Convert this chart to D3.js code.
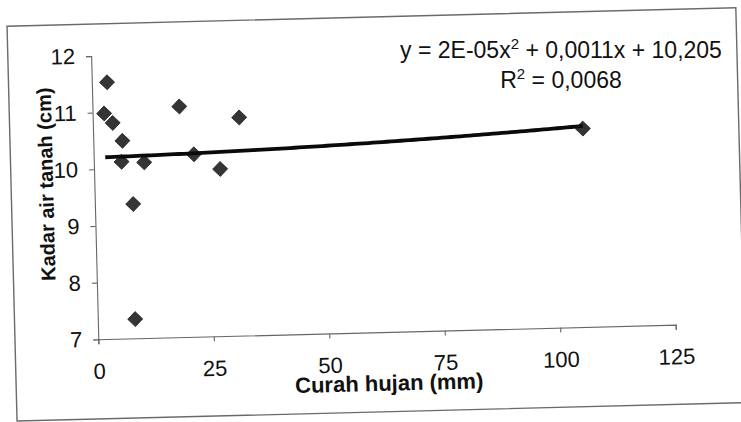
<!DOCTYPE html>
<html>
<head>
<meta charset="utf-8">
<script src="https://cdn.jsdelivr.net/npm/d3@7"></script>
<style>
  body { margin: 0; background: #fff; }
  text { font-family: "Liberation Sans", Arial, sans-serif; fill: #111; }
</style>
</head>
<body>
<script>
// data
let rain = [3.3, 2.5, 4.3, 6.3, 6.0, 10.9, 21.7, 18.8, 31.7, 27.3, 8.3, 8.1, 106];
let kadar = [11.53, 10.98, 10.81, 10.49, 10.12, 10.10, 10.22, 11.07, 10.85, 9.95, 9.37, 7.34, 10.5];
let xTicks = [0, 25, 50, 75, 100, 125];
let yTicks = [7, 8, 9, 10, 11, 12];
// polynomial trendline y = a x^2 + b x + c (as printed on the chart)
let coef = [2e-5, 0.0011, 10.205];

let points = rain.map((r, i) => ({ x: r, y: kadar[i] }));

let width = 741, height = 422;
let ox = 98.3, oy = 339.3;

let svg = d3.select("body").append("svg")
  .attr("width", width)
  .attr("height", height);

// the scan is slightly tilted
let g = svg.append("g").attr("transform", `rotate(-1.45, ${ox}, ${oy})`);

let x = d3.scaleLinear().domain([0, 125]).range([ox, 675.8]);
let y = d3.scaleLinear().domain([7, 12]).range([oy, 55.9]);

// outer frame
g.append("rect")
  .attr("x", 15).attr("y", 24)
  .attr("width", 729).attr("height", 395)
  .attr("fill", "none")
  .attr("stroke", "#6a6a6a")
  .attr("stroke-width", 1.4);

let xAxis = g.append("g")
  .attr("transform", `translate(0, ${oy})`)
  .call(d3.axisBottom(x).tickValues(xTicks).tickFormat(d3.format("d")).tickSize(5).tickPadding(19));
let yAxis = g.append("g")
  .attr("transform", `translate(${ox}, 0)`)
  .call(d3.axisLeft(y).tickValues(yTicks).tickFormat(d3.format("d")).tickSize(5).tickPadding(11));

[xAxis, yAxis].forEach(a => {
  a.select(".domain").attr("stroke", "#666").attr("stroke-width", 1.1);
  a.selectAll(".tick line").attr("stroke", "#666").attr("stroke-width", 1.1);
  a.selectAll(".tick text")
    .attr("font-size", 22)
    .attr("font-family", "Liberation Sans, Arial, sans-serif")
    .attr("fill", "#151515");
});

// markers
g.selectAll("path.pt")
  .data(points)
  .enter()
  .append("path")
  .attr("class", "pt")
  .attr("d", d3.symbol().type(d3.symbolSquare).size(112))
  .attr("transform", d => `translate(${x(d.x)}, ${y(d.y)}) rotate(45)`)
  .attr("fill", "#353535")
  .attr("stroke", "#222")
  .attr("stroke-width", 0.8);

// trendline
let xs = d3.range(d3.min(rain), d3.max(rain) + 0.01, 1);
if (xs[xs.length - 1] < d3.max(rain)) xs.push(d3.max(rain));
let line = d3.line()
  .x(d => x(d))
  .y(d => y(coef[0] * d * d + coef[1] * d + coef[2]));
g.append("path")
  .attr("d", line(xs))
  .attr("fill", "none")
  .attr("stroke", "#0a0a0a")
  .attr("stroke-width", 3.8);

// axis titles
g.append("text")
  .attr("x", 388)
  .attr("y", 398)
  .attr("text-anchor", "middle")
  .attr("font-size", 22)
  .attr("font-weight", "bold")
  .text("Curah hujan (mm)");

g.append("text")
  .attr("transform", "translate(57, 183) rotate(-90)")
  .attr("text-anchor", "middle")
  .attr("font-size", 20)
  .attr("font-weight", "bold")
  .text("Kadar air tanah (cm)");

// equation (almost level in the scan)
let eq = svg.append("text")
  .attr("x", 561).attr("y", 58)
  .attr("text-anchor", "middle")
  .attr("font-size", 23);
eq.append("tspan").text("y = 2E-05x");
eq.append("tspan").attr("font-size", 15).attr("dy", -9).text("2");
eq.append("tspan").attr("dy", 9).text(" + 0,0011x + 10,205");

let r2 = svg.append("text")
  .attr("x", 561).attr("y", 88)
  .attr("text-anchor", "middle")
  .attr("font-size", 23);
r2.append("tspan").text("R");
r2.append("tspan").attr("font-size", 15).attr("dy", -9).text("2");
r2.append("tspan").attr("dy", 9).text(" = 0,0068");
</script>
</body>
</html>
